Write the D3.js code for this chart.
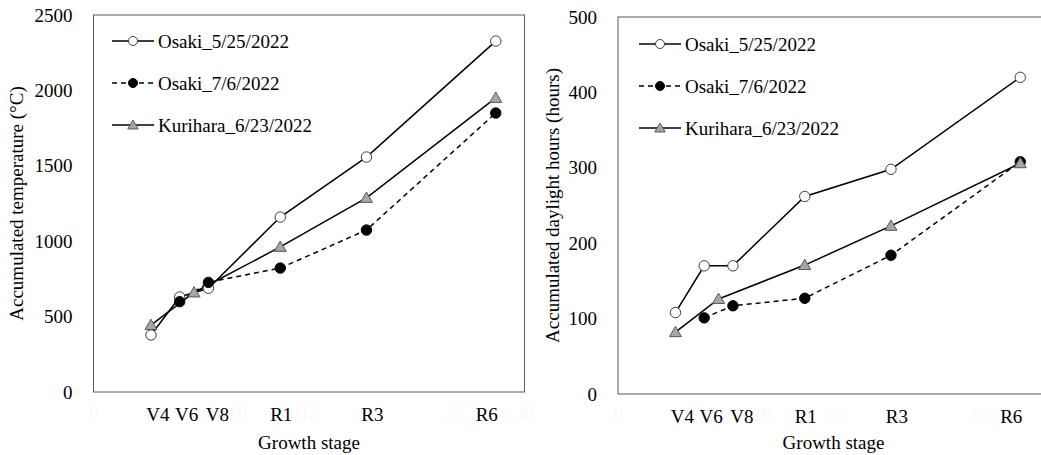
<!DOCTYPE html>
<html>
<head>
<meta charset="utf-8">
<script src="https://cdn.jsdelivr.net/npm/d3@7"></script>
<style>
  html, body { margin: 0; padding: 0; background: #fff; }
  svg, svg text { font-family: 'Liberation Serif', 'Times New Roman', Times, serif; }
</style>
</head>
<body>
<svg id="chart" width="1041" height="455"></svg>
<script>
// Growth stages and their positions on the numeric stage axis
const stageNames = ["V4", "V6", "V8", "R1", "R3", "R6"];
const stageX = [4, 6, 8, 13, 19, 28];
// numeric stage-axis labels left visible around the captions
const axisTicksX = [0, 10, 15, 25, 30];

// x positions of each series' observations
const osaki525X = [4, 6, 8, 13, 19, 28];
const osaki706X = [6, 8, 13, 19, 28];
const kuriharaX = [4, 7, 13, 19, 28];

// Accumulated temperature (°C)
const osaki525Temp = [378, 630, 688, 1160, 1558, 2327];
const osaki706Temp = [599, 727, 822, 1074, 1850];
const kuriharaTemp = [444, 660, 962, 1287, 1950];
const tempTicks = [0, 500, 1000, 1500, 2000, 2500];

// Accumulated daylight hours (hours)
const osaki525Sun = [108, 170, 170, 262, 298, 420];
const osaki706Sun = [101, 117, 127, 184, 308];
const kuriharaSun = [82, 126, 171, 223, 306];
const sunTicks = [0, 100, 200, 300, 400, 500];

const seriesNames = ["Osaki_5/25/2022", "Osaki_7/6/2022", "Kurihara_6/23/2022"];

const FONT = "'Liberation Serif', 'Times New Roman', Times, serif";
const svg = d3.select("#chart");

// Marker / line styles per series
const styles = [
  { symbol: d3.symbolCircle, size: 85, fill: "#ffffff", stroke: "#404040", dash: null },
  { symbol: d3.symbolCircle, size: 85, fill: "#000000", stroke: "#000000", dash: "5,4" },
  { symbol: d3.symbolTriangle, size: 62, fill: "#a6a6a6", stroke: "#595959", dash: null }
];

// Pixel nudges for the stage captions under the axis
const stageLabelNudge = [7, 7, 9, 1, 6, -9];

function drawPanel(opt) {
  const { left, right, top, bottom, yMax, yTicks, series, yTitle, yTitleX, legendX, legendY } = opt;
  const g = svg.append("g").style("font-family", FONT);
  const x = d3.scaleLinear().domain([0, 30]).range([left, right]);
  const y = d3.scaleLinear().domain([0, yMax]).range([bottom, top]);

  // plot frame
  g.append("rect")
    .attr("x", left).attr("y", top)
    .attr("width", right - left).attr("height", bottom - top)
    .attr("fill", "none").attr("stroke", "#595959").attr("stroke-width", 1);

  // y axis labels (no tick marks)
  const yAxis = d3.axisLeft(y).tickValues(yTicks).tickSize(0).tickPadding(21).tickFormat(d3.format("d"));
  const ya = g.append("g").attr("transform", `translate(${left},0)`).call(yAxis);
  ya.attr("font-family", null).attr("font-size", null);
  ya.select(".domain").remove();
  ya.selectAll("text").style("font-family", FONT).style("font-size", "19px").attr("fill", "#000");

  // faint numeric x ticks underneath the stage captions
  const xAxis = d3.axisBottom(x).tickValues(axisTicksX.filter(v => x(v) < 1030)).tickSize(0).tickPadding(14);
  const xa = g.append("g").attr("transform", `translate(0,${bottom})`).call(xAxis);
  xa.attr("font-family", null).attr("font-size", null);
  xa.select(".domain").remove();
  xa.selectAll("text").style("font-family", FONT).style("font-size", "19px").attr("fill", "#f9f9f9");

  // stage captions on white boxes
  const cap = g.append("g");
  stageNames.forEach((s, i) => {
    const cx = x(stageX[i]) + stageLabelNudge[i];
    cap.append("rect").attr("x", cx - 11).attr("y", bottom + 12)
      .attr("width", 22).attr("height", 22).attr("fill", "#fff");
    cap.append("text").attr("x", cx).attr("y", bottom + 29)
      .attr("text-anchor", "middle").style("font-size", "19px").attr("fill", "#000").text(s);
  });

  // x title
  g.append("text").attr("x", (left + right) / 2).attr("y", 449)
    .attr("text-anchor", "middle").style("font-size", "19px").text("Growth stage");

  // y title
  g.append("text").attr("transform", `translate(${yTitleX},${(top + bottom) / 2}) rotate(-90)`)
    .attr("text-anchor", "middle").style("font-size", "19px").text(yTitle);

  const line = d3.line().x(d => x(d[0])).y(d => y(d[1]));

  // lines
  series.forEach((s, i) => {
    const pts = s.xs.map((v, k) => [v, s.ys[k]]);
    g.append("path").datum(pts).attr("d", line)
      .attr("fill", "none").attr("stroke", "#000").attr("stroke-width", 1.5)
      .attr("stroke-dasharray", styles[i].dash);
  });
  // markers
  series.forEach((s, i) => {
    const pts = s.xs.map((v, k) => [v, s.ys[k]]);
    const sym = d3.symbol().type(styles[i].symbol).size(styles[i].size);
    g.append("g").selectAll("path").data(pts).join("path")
      .attr("d", sym)
      .attr("transform", d => `translate(${x(d[0])},${y(d[1]) + (styles[i].symbol === d3.symbolTriangle ? 1 : 0)})`)
      .attr("fill", styles[i].fill).attr("stroke", styles[i].stroke).attr("stroke-width", 1);
  });

  // legend
  const lg = g.append("g");
  seriesNames.forEach((name, i) => {
    const ly = legendY + i * 42;
    lg.append("line").attr("x1", legendX).attr("x2", legendX + 42)
      .attr("y1", ly).attr("y2", ly)
      .attr("stroke", "#000").attr("stroke-width", 1.5)
      .attr("stroke-dasharray", styles[i].dash);
    lg.append("path").attr("d", d3.symbol().type(styles[i].symbol).size(styles[i].size * 0.75))
      .attr("transform", `translate(${legendX + 21},${ly + (i === 2 ? 1 : 0)})`)
      .attr("fill", styles[i].fill).attr("stroke", styles[i].stroke).attr("stroke-width", 1);
    lg.append("text").attr("x", legendX + 46).attr("y", ly).attr("dy", "0.35em")
      .style("font-size", "19px").text(name);
  });
}

drawPanel({
  left: 93.5, right: 524.5, top: 15, bottom: 392,
  yMax: 2500, yTicks: tempTicks,
  series: [
    { xs: osaki525X, ys: osaki525Temp },
    { xs: osaki706X, ys: osaki706Temp },
    { xs: kuriharaX, ys: kuriharaTemp }
  ],
  yTitle: "Accumulated temperature (°C)", yTitleX: 23,
  legendX: 112, legendY: 41
});

drawPanel({
  left: 618, right: 1049, top: 17, bottom: 394,
  yMax: 500, yTicks: sunTicks,
  series: [
    { xs: osaki525X, ys: osaki525Sun },
    { xs: osaki706X, ys: osaki706Sun },
    { xs: kuriharaX, ys: kuriharaSun }
  ],
  yTitle: "Accumulated daylight hours (hours)", yTitleX: 559,
  legendX: 639, legendY: 44
});
</script>
</body>
</html>
